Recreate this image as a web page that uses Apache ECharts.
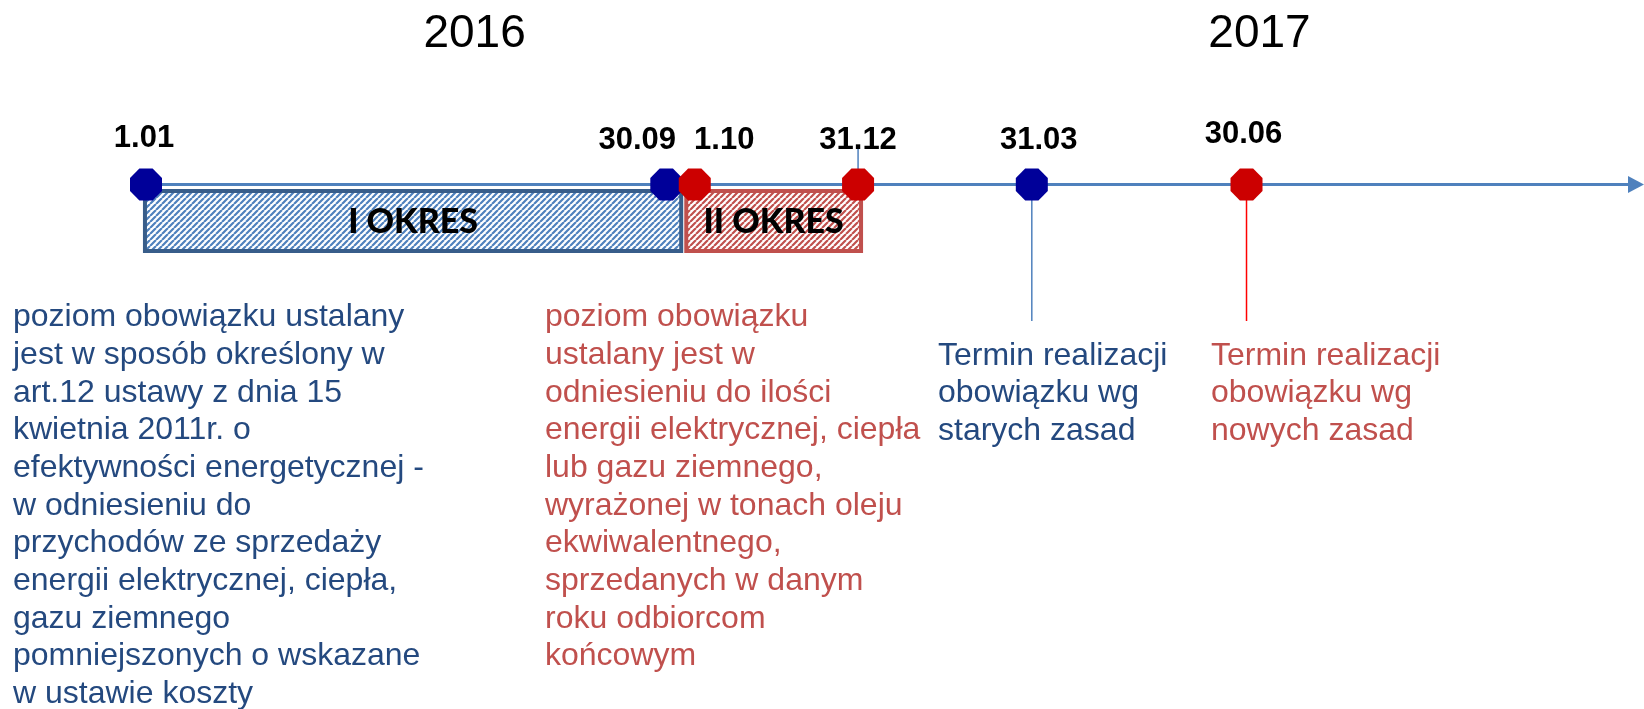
<!DOCTYPE html>
<html><head><meta charset="utf-8">
<script src="https://cdn.jsdelivr.net/npm/echarts@6/dist/echarts.min.js"></script>
<style>html,body{margin:0;padding:0;background:#fff}#c{width:1644px;height:709px}</style>
</head><body><div id="c"></div>
<script>
// ---- data ----
const dateLabels    = ['1.01', '30.09', '1.10', '31.12', '31.03', '30.06'];
const datePositions = [0, 34.92, 36.83, 47.79, 59.45, 73.86];   // schematic timeline position (0..100)
const dateGroups    = ['old', 'old', 'new', 'new', 'old', 'new'];

const yearLabels    = ['2016', '2017'];
const yearPositions = [22.05, 74.73];

const periodNames   = ['I OKRES', 'II OKRES'];
const periodStarts  = [-0.07, 36.26];
const periodEnds    = [35.92, 47.99];
const periodGroups  = ['old', 'new'];

const connectorDates  = ['31.12', '31.03', '30.06'];
const connectorDirs   = ['up', 'down', 'down'];
const connectorGroups = ['old', 'old', 'new'];

const descOld = ['poziom obowiązku ustalany', 'jest w sposób określony w', 'art.12 ustawy z dnia 15',
  'kwietnia 2011r. o', 'efektywności energetycznej -', 'w odniesieniu do', 'przychodów ze sprzedaży',
  'energii elektrycznej, ciepła,', 'gazu ziemnego', 'pomniejszonych o wskazane', 'w ustawie koszty'];
const descNew = ['poziom obowiązku', 'ustalany jest w', 'odniesieniu do ilości', 'energii elektrycznej, ciepła',
  'lub gazu ziemnego,', 'wyrażonej w tonach oleju', 'ekwiwalentnego,', 'sprzedanych w danym',
  'roku odbiorcom', 'końcowym'];
const deadlineOld = ['Termin realizacji', 'obowiązku wg', 'starych zasad'];
const deadlineNew = ['Termin realizacji', 'obowiązku wg', 'nowych zasad'];

// ---- styles ----
const markerColor = {old: '#000099', new: '#CC0000'};
const hatchColor  = {old: '#4F81BD', new: '#C0504D'};
const borderColor = {old: '#385D8A', new: '#C0504D'};
const connColor   = {old: '#4F81BD', new: '#FF0000'};
const textColor   = {old: '#24497F', new: '#C0504D'};
const labelOffsets = [[-2, -46], [-29, -44.5], [29.5, -44.5], [0, -44.5], [7, -44.5], [-3, -50]];
const ARIAL = '"Liberation Sans", Arial, sans-serif';
const OCT = 'path://M29.3,0 L70.7,0 L100,29.3 L100,70.7 L70.7,100 L29.3,100 L0,70.7 L0,29.3 Z';

function hatch(color) {
  const s = 6, c = document.createElement('canvas');
  c.width = s; c.height = s;
  const g = c.getContext('2d');
  g.fillStyle = '#fff'; g.fillRect(0, 0, s, s);
  g.strokeStyle = color; g.lineWidth = 2.2;
  g.beginPath();
  for (const k of [-s, 0, s]) { g.moveTo(k, s); g.lineTo(k + s, 0); }
  g.stroke();
  return c;
}
const patterns = {old: hatch(hatchColor.old), new: hatch(hatchColor.new)};

const chart = echarts.init(document.getElementById('c'));
chart.setOption({
  animation: false,
  backgroundColor: '#fff',
  grid: {left: 146, right: 8, top: 134.5, height: 50, outerBoundsMode: 'none'},
  xAxis: {
    type: 'value', min: 0, max: 100,
    axisLine: {show: true, onZero: true, symbol: ['none', 'triangle'], symbolSize: [17, 16],
      lineStyle: {color: '#4F81BD', width: 3}},
    axisTick: {show: false}, axisLabel: {show: false}, splitLine: {show: false}
  },
  yAxis: {type: 'value', min: 0, max: 1, show: false},
  series: [
    {
      type: 'custom', clip: false, z: 2,
      data: periodNames.map((n, i) => [periodStarts[i], periodEnds[i]]),
      renderItem(params, api) {
        const i = params.dataIndex, grp = periodGroups[i];
        const s = api.coord([api.value(0), 0]);
        const e = api.coord([api.value(1), 0]);
        const top = s[1] + 6.5, h = 60;
        return {type: 'group', children: [
          {type: 'rect', shape: {x: s[0], y: top, width: e[0] - s[0], height: h},
            style: {fill: {image: patterns[grp], repeat: 'repeat'}, stroke: borderColor[grp], lineWidth: 4}},
          {type: 'text', style: {text: periodNames[i], x: (s[0] + e[0]) / 2, y: top + h / 2 + 1,
            align: 'center', verticalAlign: 'middle', font: '900 34px Lato, sans-serif', fill: '#000'}}
        ]};
      }
    },
    {
      type: 'custom', clip: false, z: 3,
      data: connectorDates.map(d => [datePositions[dateLabels.indexOf(d)]]),
      renderItem(params, api) {
        const i = params.dataIndex;
        const p = api.coord([api.value(0), 0]);
        const y2 = connectorDirs[i] === 'up' ? p[1] - 35.5 : p[1] + 136.5;
        return {type: 'line', shape: {x1: p[0], y1: p[1], x2: p[0], y2: y2},
          style: {stroke: connColor[connectorGroups[i]], lineWidth: 1.5}};
      }
    },
    {
      type: 'scatter', clip: false, z: 5,
      symbol: OCT, symbolSize: 32,
      itemStyle: {opacity: 1},
      data: datePositions.map((p, i) => ({
        value: [p, 0],
        itemStyle: {color: markerColor[dateGroups[i]], opacity: 1},
        label: {offset: labelOffsets[i]}
      })),
      label: {show: true, position: 'inside', formatter: p => dateLabels[p.dataIndex],
        color: '#000', opacity: 1, fontFamily: ARIAL, fontWeight: 'bold', fontSize: 31},
      emphasis: {disabled: true}
    },
    {
      type: 'custom', clip: false, z: 5,
      data: yearPositions.map(p => [p]),
      renderItem(params, api) {
        const p = api.coord([api.value(0), 0]);
        return {type: 'text', style: {text: yearLabels[params.dataIndex], x: p[0], y: p[1] - 150,
          align: 'center', verticalAlign: 'middle', font: '46px ' + ARIAL, fill: '#000'}};
      }
    }
  ],
  graphic: [
    {type: 'text', x: 13, y: 298.5, style: {text: descOld.join('\n'), font: '32px ' + ARIAL,
      fill: textColor.old, lineHeight: 37.7, verticalAlign: 'top'}},
    {type: 'text', x: 545, y: 298.5, style: {text: descNew.join('\n'), font: '32px ' + ARIAL,
      fill: textColor.new, lineHeight: 37.7, verticalAlign: 'top'}},
    {type: 'text', x: 938, y: 337, style: {text: deadlineOld.join('\n'), font: '32px ' + ARIAL,
      fill: textColor.old, lineHeight: 37.7, verticalAlign: 'top'}},
    {type: 'text', x: 1211, y: 337, style: {text: deadlineNew.join('\n'), font: '32px ' + ARIAL,
      fill: textColor.new, lineHeight: 37.7, verticalAlign: 'top'}}
  ]
});
</script></body></html>
